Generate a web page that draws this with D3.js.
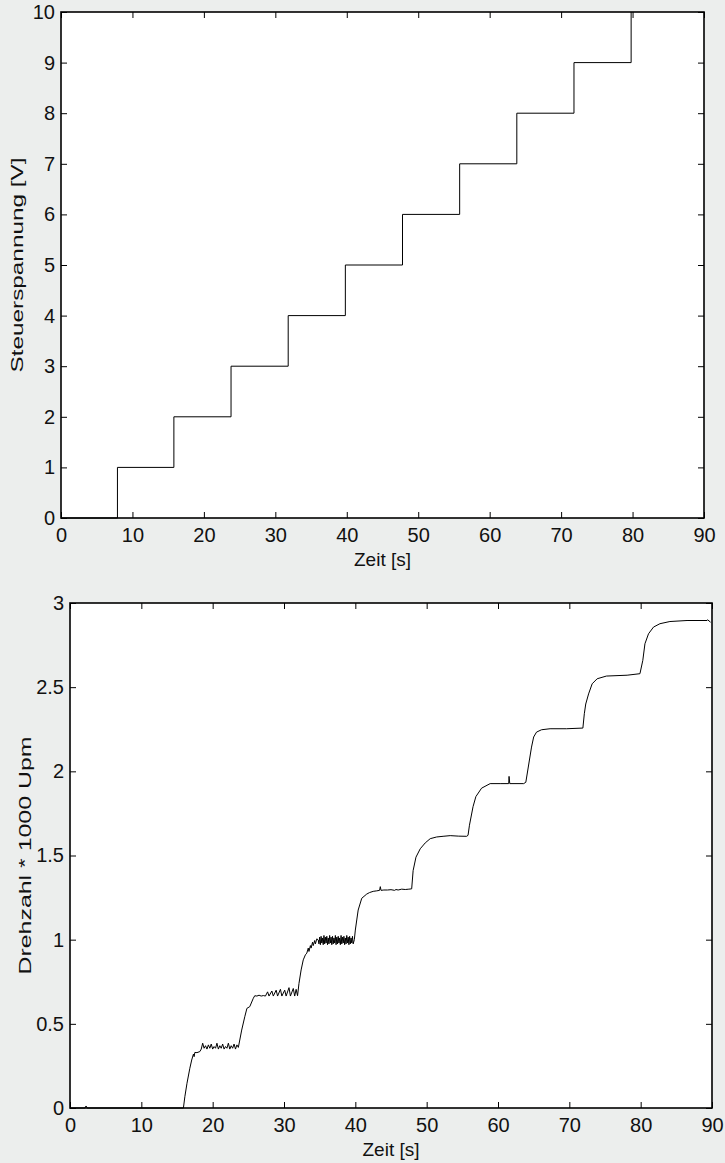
<!DOCTYPE html>
<html>
 <head>
  <title>Steuerspannung und Drehzahl</title>
  <style>
  body {
   margin: 0;
   background-color: #eceeed;
  }
  svg {
   display: block;
   font-family: "Liberation Sans", Arial, sans-serif;
  }
  </style>
 </head>

 <body>
  <script src="https://cdnjs.cloudflare.com/ajax/libs/d3/7.8.3/d3.min.js"></script>
  <script>
   // data
   const xTicks = [0, 10, 20, 30, 40, 50, 60, 70, 80, 90];
   const spannungTicks = [0, 1, 2, 3, 4, 5, 6, 7, 8, 9, 10];
   const drehzahlTicks = [0, 0.5, 1, 1.5, 2, 2.5, 3];

   // step times [s] and control voltage [V]
   const stufenZeit = [0, 7.9, 15.8, 23.8, 31.8, 39.8, 47.8, 55.8, 63.8, 71.8, 79.8];
   const stufenSpannung = [0, 1, 2, 3, 4, 5, 6, 7, 8, 9, 10];

   // measured speed [s, 1000 rpm]
   const drehzahl = [
    [0, 0], [2.1, 0], [2.25, 0.012], [2.4, 0], [15.9, 0],
    [16.1, 0.067], [16.4, 0.147], [16.8, 0.236], [17.06, 0.285], [17.3, 0.32], [17.4, 0.305], [17.5, 0.33],
    [17.8, 0.329], [18.2, 0.335],
    [18.4, 0.35], [18.6, 0.385], [18.8, 0.355], [19.0, 0.37], [19.2, 0.35], [19.4, 0.375], [19.6, 0.355],
    [19.8, 0.38], [20.0, 0.35], [20.2, 0.365], [20.4, 0.355], [20.6, 0.385], [20.8, 0.35], [21.0, 0.37],
    [21.2, 0.355], [21.4, 0.38], [21.6, 0.35], [21.8, 0.365], [22.0, 0.355], [22.2, 0.385], [22.4, 0.35],
    [22.6, 0.37], [22.8, 0.355], [23.0, 0.38], [23.2, 0.35], [23.4, 0.375], [23.6, 0.36],
    [24.07, 0.463], [24.5, 0.542], [24.8, 0.592], [25.2, 0.602], [25.7, 0.652], [25.9, 0.667],
    [26.2, 0.665], [26.5, 0.67], [26.8, 0.665], [27.1, 0.668], [27.4, 0.665], [27.7, 0.69], [27.9, 0.665],
    [28.3, 0.695], [28.5, 0.665], [28.9, 0.70], [29.1, 0.665], [29.5, 0.705], [29.7, 0.665], [30.1, 0.70],
    [30.3, 0.665], [30.7, 0.715], [30.9, 0.665], [31.3, 0.71], [31.5, 0.665], [31.7, 0.705], [31.9, 0.667],
    [32.1, 0.74], [32.4, 0.82], [32.7, 0.88], [33.0, 0.91], [33.2, 0.92], [33.4, 0.95], [33.5, 0.93],
    [33.7, 0.965], [33.8, 0.95], [34.0, 0.985], [34.1, 0.965], [34.3, 0.995], [34.4, 0.975], [34.6, 1.005],
    [34.8, 0.998], [34.9, 0.975], [35.0, 1.015], [35.1, 0.97], [35.2, 1.02], [35.3, 0.98], [35.4, 1.01],
    [35.5, 0.97], [35.6, 1.025], [35.7, 0.975], [35.8, 1.015], [35.9, 0.98], [36.0, 1.02], [36.1, 0.97],
    [36.2, 1.01], [36.3, 0.975], [36.4, 1.025], [36.5, 0.98], [36.6, 1.015], [36.7, 0.97], [36.8, 1.02],
    [36.9, 0.975], [37.0, 1.01], [37.1, 0.98], [37.2, 1.025], [37.3, 0.97], [37.4, 1.015], [37.5, 0.975],
    [37.6, 1.02], [37.7, 0.98], [37.8, 1.01], [37.9, 0.97], [38.0, 1.025], [38.1, 0.975], [38.2, 1.015],
    [38.3, 0.98], [38.4, 1.02], [38.5, 0.97], [38.6, 1.01], [38.7, 0.975], [38.8, 1.025], [38.9, 0.98],
    [39.0, 1.015], [39.1, 0.97], [39.2, 1.02], [39.3, 0.975], [39.4, 1.01], [39.5, 0.98], [39.6, 1.02],
    [39.7, 0.975], [39.86, 1.0],
    [40.0, 1.057], [40.2, 1.117], [40.4, 1.176], [40.9, 1.246], [41.6, 1.271], [42.0, 1.28], [42.5, 1.287],
    [43.0, 1.29], [43.4, 1.293], [43.5, 1.315], [43.6, 1.293], [44.0, 1.295], [44.5, 1.295], [45.0, 1.297],
    [45.5, 1.293], [45.7, 1.298], [46.0, 1.295], [46.5, 1.30], [47.0, 1.298], [47.5, 1.30], [47.9, 1.302],
    [48.1, 1.41], [48.5, 1.49], [49.1, 1.54], [49.8, 1.575], [50.5, 1.60], [51.4, 1.61], [52.3, 1.614],
    [53.3, 1.618], [54.5, 1.615], [55.6, 1.614], [55.8, 1.62],
    [56.0, 1.68], [56.5, 1.79], [56.9, 1.85], [57.7, 1.90], [58.9, 1.927], [60.3, 1.927], [61.5, 1.927],
    [61.55, 1.97], [61.65, 1.927], [63.6, 1.927], [63.9, 1.935],
    [64.7, 2.144], [65.0, 2.204], [65.4, 2.233], [66.1, 2.247], [67.3, 2.253], [69.6, 2.253], [71.9, 2.257],
    [72.1, 2.342], [72.3, 2.40], [72.7, 2.46], [73.2, 2.52], [73.9, 2.55], [75.2, 2.566], [78.1, 2.571],
    [79.9, 2.58],
    [80.3, 2.659], [80.6, 2.758], [81.1, 2.817], [81.8, 2.857], [82.7, 2.877], [84.1, 2.89], [86.5, 2.896],
    [89.3, 2.896], [89.4, 2.90], [89.8, 2.886]
   ];

   const w = 725;
   const h = 1163;

   const svg = d3.select("body")
                 .append("svg")
                 .attr("width", w)
                 .attr("height", h);

   function zeichne(box, yDomain, yTicks, yFormat, yTitel, yTitelX, yTitelLen, line) {
    const x = d3.scaleLinear().domain([0, 90]).range([box.left, box.right]);
    const y = d3.scaleLinear().domain(yDomain).range([box.bottom, box.top]);

    svg.append("rect")
       .attr("x", box.left)
       .attr("y", box.top)
       .attr("width", box.right - box.left)
       .attr("height", box.bottom - box.top)
       .attr("fill", "white");

    line(x, y);

    // matlab style: ticks inside, on all four sides
    const axes = [
     [d3.axisBottom(x), box.bottom, "x", true],
     [d3.axisTop(x), box.top, "x", false],
     [d3.axisLeft(y), box.left, "y", true],
     [d3.axisRight(y), box.right, "y", false]
    ];
    axes.forEach(([ax, pos, dir, labels]) => {
     ax.tickValues(dir === "x" ? xTicks : yTicks)
       .tickSizeInner(-6)
       .tickSizeOuter(0)
       .tickPadding(labels ? (dir === "x" ? 10 : 6) : 0)
       .tickFormat(labels ? (dir === "x" ? d3.format("d") : yFormat) : "");
     const g = svg.append("g")
                  .attr("transform", dir === "x" ? "translate(0," + pos + ")" : "translate(" + pos + ",0)")
                  .call(ax);
     g.select(".domain").remove();
     g.selectAll("line").attr("stroke", "#000").attr("stroke-width", 1);
     g.selectAll("text")
      .attr("font-family", "Liberation Sans, Arial, sans-serif")
      .attr("font-size", 20)
      .attr("fill", "#111");
    });

    svg.append("rect")
       .attr("x", box.left)
       .attr("y", box.top)
       .attr("width", box.right - box.left)
       .attr("height", box.bottom - box.top)
       .attr("fill", "none")
       .attr("stroke", "#000")
       .attr("stroke-width", 1.6);

    svg.append("text")
       .attr("x", (box.left + box.right) / 2)
       .attr("y", box.bottom + 48)
       .attr("text-anchor", "middle")
       .attr("font-size", 19)
       .attr("fill", "#111")
       .text("Zeit [s]");

    // the y titles are drawn stretched along the baseline, as in the original
    svg.append("text")
       .attr("transform", "translate(" + yTitelX + "," + ((box.top + box.bottom) / 2) + ") rotate(-90)")
       .attr("text-anchor", "middle")
       .attr("font-size", 17)
       .attr("textLength", yTitelLen)
       .attr("lengthAdjust", "spacingAndGlyphs")
       .attr("fill", "#111")
       .text(yTitel);
   }

   // top: control voltage
   zeichne({left: 61, right: 704, top: 12, bottom: 518}, [0, 10], spannungTicks, d3.format("d"),
           "Steuerspannung [V]", 23, 215, (x, y) => {
    svg.append("path")
       .datum(stufenZeit.map((t, i) => [t, stufenSpannung[i]]))
       .attr("fill", "none")
       .attr("stroke", "#000")
       .attr("stroke-width", 1)
       .attr("d", d3.line().x(d => x(d[0])).y(d => y(d[1])).curve(d3.curveStepAfter));
   });

   // bottom: speed
   zeichne({left: 70, right: 712, top: 603, bottom: 1108}, [0, 3], drehzahlTicks, d => String(d),
           "Drehzahl * 1000 Upm", 31, 238, (x, y) => {
    svg.append("path")
       .datum(drehzahl)
       .attr("fill", "none")
       .attr("stroke", "#000")
       .attr("stroke-width", 1)
       .attr("d", d3.line().x(d => x(d[0])).y(d => y(d[1])));
   });
  </script>
 </body>
</html>
